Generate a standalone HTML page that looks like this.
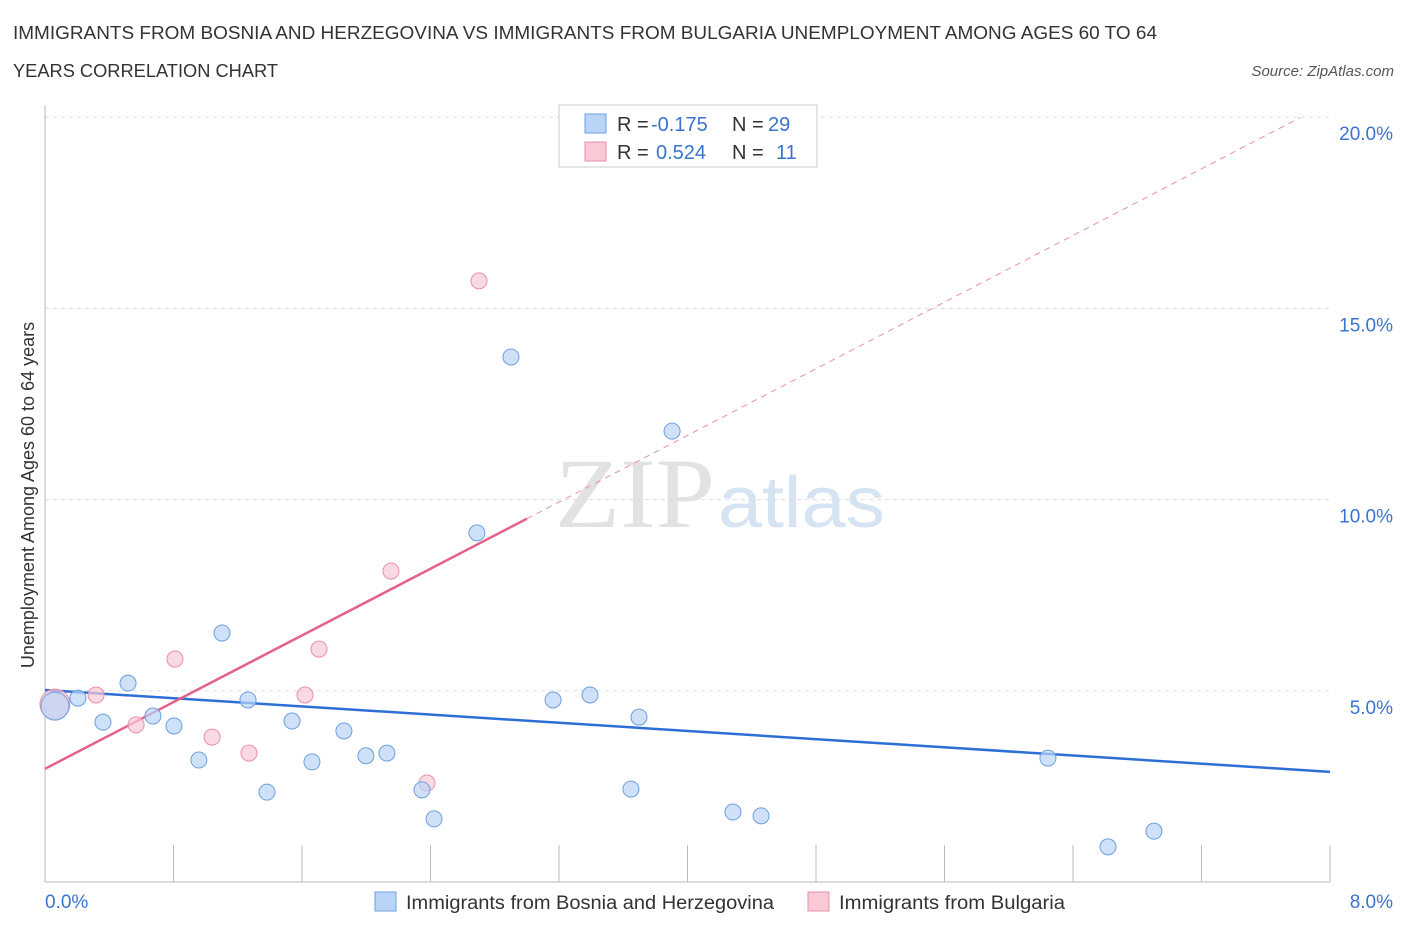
<!DOCTYPE html>
<html><head><meta charset="utf-8"><style>
body{margin:0;background:#fff;font-family:"Liberation Sans",sans-serif;}
svg{display:block}
</style></head><body>
<svg id="chart" width="1406" height="930">
<text x="13" y="39" font-size="18" fill="#333" textLength="1144" lengthAdjust="spacingAndGlyphs">IMMIGRANTS FROM BOSNIA AND HERZEGOVINA VS IMMIGRANTS FROM BULGARIA UNEMPLOYMENT AMONG AGES 60 TO 64</text>
<text x="13" y="77" font-size="18" fill="#333" textLength="265" lengthAdjust="spacingAndGlyphs">YEARS CORRELATION CHART</text>
<text x="1394" y="76" font-size="15" fill="#555" font-style="italic" text-anchor="end">Source: ZipAtlas.com</text>
<text x="555" y="527" font-size="100" fill="#e2e2e2" font-family="Liberation Serif,serif" textLength="160" lengthAdjust="spacingAndGlyphs">ZIP</text>
<text x="718" y="527" font-size="72" fill="#d5e3f3" textLength="167" lengthAdjust="spacingAndGlyphs">atlas</text>
<text transform="translate(34,495) rotate(-90)" font-size="18" fill="#333" text-anchor="middle">Unemployment Among Ages 60 to 64 years</text>
<g id="grid"></g><g id="axes"></g><g id="trends"></g><g id="pts"></g>
<g>
<rect x="559" y="105" width="258" height="62" fill="#fff" stroke="#ccc"/>
<rect x="585" y="114" width="21" height="19" fill="#b9d4f7" stroke="#6d9fe0"/>
<text x="617" y="131" font-size="20" fill="#333">R =</text>
<text x="651" y="131" font-size="20" fill="#3a73d0">-0.175</text>
<text x="732" y="131" font-size="20" fill="#333">N =</text>
<text x="768" y="131" font-size="20" fill="#3a73d0">29</text>
<rect x="585" y="142" width="21" height="19" fill="#f9c9d6" stroke="#e890a8"/>
<text x="617" y="159" font-size="20" fill="#333">R =</text>
<text x="656" y="159" font-size="20" fill="#3a73d0">0.524</text>
<text x="732" y="159" font-size="20" fill="#333">N =</text>
<text x="776" y="159" font-size="20" fill="#3a73d0">11</text>
</g>
<g>
<rect x="375" y="892" width="21" height="19" fill="#b9d4f7" stroke="#6d9fe0"/>
<text x="406" y="909" font-size="19" fill="#333" textLength="368" lengthAdjust="spacingAndGlyphs">Immigrants from Bosnia and Herzegovina</text>
<rect x="808" y="892" width="21" height="19" fill="#f9c9d6" stroke="#e890a8"/>
<text x="839" y="909" font-size="19" fill="#333" textLength="226" lengthAdjust="spacingAndGlyphs">Immigrants from Bulgaria</text>
</g>
</svg>
<script>
const yTicks=[5,10,15,20];
const yTickLabels=["5.0%","10.0%","15.0%","20.0%"];
const xTickCount=10;
const bosniaX=[0.062,0.205,0.361,0.517,0.672,0.803,0.958,1.102,1.264,1.382,1.538,1.662,1.861,1.998,2.129,2.347,2.422,2.689,2.901,3.163,3.393,3.648,3.698,3.904,4.283,4.458,6.244,6.618,6.904];
const bosniaY=[4.60,4.81,4.18,5.20,4.34,4.08,3.19,6.51,4.76,2.35,4.21,3.14,3.95,3.30,3.37,2.41,1.65,9.13,13.73,4.76,4.89,2.43,4.31,11.79,1.83,1.73,3.24,0.92,1.33];
const bulgariaX=[0.062,0.318,0.567,0.809,1.040,1.270,1.619,1.706,2.154,2.378,2.702];
const bulgariaY=[4.65,4.89,4.11,5.83,3.79,3.37,4.89,6.09,8.13,2.59,15.72];
const bosniaTrendX=[0,8],bosniaTrendY=[5.02,2.88];
const bulgariaTrendX=[0,3.0,7.815],bulgariaTrendY=[2.96,9.50,19.99];
const NS="http://www.w3.org/2000/svg";
const X=v=>45+v/8*1285, Y=v=>882-v/5*191.2;
function mk(p,t,a){const e=document.createElementNS(NS,t);for(const k in a)e.setAttribute(k,a[k]);document.getElementById(p).appendChild(e);return e;}
yTicks.forEach((t,i)=>{
 const l=mk('grid','line',{x1:45,x2:1330,y1:Y(t),y2:Y(t),stroke:'#ddd','stroke-dasharray':'4 4'});
 
 
 const tx=mk('grid','text',{x:1393,y:Y(t)+23,'font-size':19,fill:'#3a73d0','text-anchor':'end'});tx.textContent=yTickLabels[i];
 
 
});
const ax=mk('axes','line',{x1:45,x2:45,y1:105,y2:882,stroke:'#bbb'});


const bx=mk('axes','line',{x1:45,x2:1330,y1:882,y2:882,stroke:'#bbb'});


for(let i=1;i<=xTickCount;i++){const t=mk('axes','line',{x1:X(i*0.8),x2:X(i*0.8),y1:845,y2:882,stroke:'#bbb'});
 
 }
const x0=mk('axes','text',{x:45,y:908,'font-size':19,fill:'#3a73d0'});x0.textContent="0.0%";


const x1=mk('axes','text',{x:1393,y:908,'font-size':19,fill:'#3a73d0','text-anchor':'end'});x1.textContent="8.0%";


const bt=mk('trends','line',{x1:X(bosniaTrendX[0]),y1:Y(bosniaTrendY[0]),x2:X(bosniaTrendX[1]),y2:Y(bosniaTrendY[1]),stroke:'#2e6fd6','stroke-width':2.5});


const pt=mk('trends','line',{x1:X(bulgariaTrendX[0]),y1:Y(bulgariaTrendY[0]),x2:X(bulgariaTrendX[1]),y2:Y(bulgariaTrendY[1]),stroke:'#e5608a','stroke-width':2.5});


const pd=mk('trends','line',{x1:X(bulgariaTrendX[1]),y1:Y(bulgariaTrendY[1]),x2:X(bulgariaTrendX[2]),y2:Y(bulgariaTrendY[2]),stroke:'#e890a8','stroke-width':1,'stroke-dasharray':'6 5'});


bulgariaX.forEach((v,i)=>{const c=mk('pts','circle',{cx:X(v),cy:Y(bulgariaY[i]),r:i==0?15:8,fill:'#f9c9d6','fill-opacity':0.7,stroke:'#e890a8'});
 
 });
bosniaX.forEach((v,i)=>{const c=mk('pts','circle',{cx:X(v),cy:Y(bosniaY[i]),r:i==0?14:8,fill:'#b9d4f7','fill-opacity':0.7,stroke:'#6d9fe0'});
 
 });
</script>
</body></html>
